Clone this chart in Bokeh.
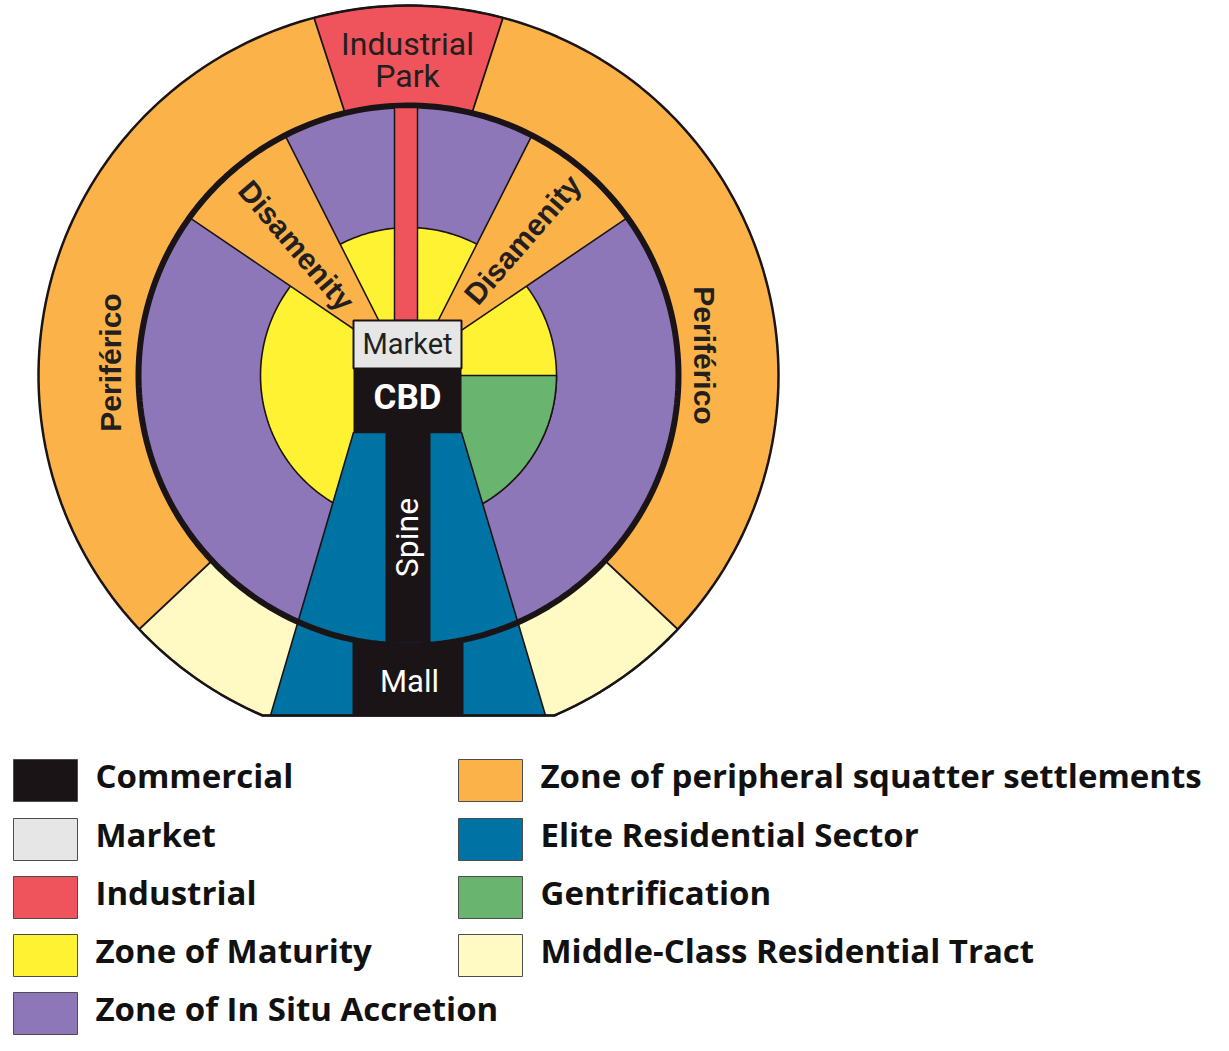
import numpy as np
from bokeh.plotting import figure
from bokeh.models import Range1d
from bokeh.embed import file_html
from bokeh.resources import INLINE
from bokeh.core.properties import value

# ---------------- model data (reference pixel coordinates) ----------------
CENTER = [408, 375]
RADII = [370, 270, 148]              # outer ring, inner (black) ring, core
BOTTOM_CUT = 715
INDUSTRIAL_HALF_DEG = [14.8, 13.6]   # half-angle at outer / inner radius
DISAMENITY_DEG = [[117.2, 144.2], [35.8, 62.8]]
DISAMENITY_APEX = [[398, 359], [418, 359]]
MIDDLE_CLASS_DEG = [[223.3, 270.0], [270.0, 316.7]]
GENTRIFICATION_DEG = [-90.0, 0.0]
ELITE_TOP_X = [353, 461]
ELITE_BOTTOM_X = [270, 545]
ELITE_Y = [432, 715]
RED_STRIP = [394, 417, 107, 320]
MARKET_BOX = [353, 461, 320, 368]
CBD_BOX = [353, 461, 368, 432]
SPINE_BOX = [385, 430, 432, 642]
MALL_BOX = [352, 463, 642, 715]

zone_names = ["Commercial", "Market", "Industrial", "Zone of Maturity",
              "Zone of In Situ Accretion", "Zone of peripheral squatter settlements",
              "Elite Residential Sector", "Gentrification", "Middle-Class Residential Tract"]
zone_colors = ["#1b1416", "#e6e6e6", "#ef545c", "#fff232", "#8e77b8",
               "#fbb248", "#0073a5", "#69b46f", "#fff9c3"]
COL = dict(zip(zone_names, zone_colors))

legend_left = zone_names[:5]
legend_right = zone_names[5:]
legend_row_top = [759, 818, 876, 934, 992]
legend_cols_x = [13, 458]

INK = "#1b1416"
NARROW = "Roboto"
BOLDF = "Liberation Sans"

W, H = 1213, 1035
p = figure(width=W, height=H, x_range=Range1d(0, W), y_range=Range1d(H, 0),
           output_backend="svg", toolbar_location=None, min_border=0)
p.axis.visible = False
p.grid.visible = False
p.outline_line_color = None
p.background_fill_color = "white"
p.border_fill_color = "white"

cx, cy = CENTER


def arc(r, a0, a1, n=240):
    t = np.radians(np.linspace(a0, a1, n))
    return list(cx + r * np.cos(t)), list(cy - r * np.sin(t))


def clip_y(xs, ys, ymax):
    ox, oy = [], []
    n = len(xs)
    for i in range(n):
        x1, y1 = xs[i], ys[i]
        x2, y2 = xs[(i + 1) % n], ys[(i + 1) % n]
        in1, in2 = y1 <= ymax, y2 <= ymax
        if in1:
            ox.append(x1); oy.append(y1)
        if in1 != in2:
            t = (ymax - y1) / (y2 - y1)
            ox.append(x1 + t * (x2 - x1)); oy.append(ymax)
    return ox, oy


R_OUT, R_IN, R_CORE = RADII

# outer ring (squatter settlements)
ox, oy = clip_y(*arc(R_OUT, 0, 360), BOTTOM_CUT)
p.patch(ox, oy, fill_color=COL["Zone of peripheral squatter settlements"], line_color=None)

# industrial park
ax, ay = arc(R_OUT, 90 - INDUSTRIAL_HALF_DEG[0], 90 + INDUSTRIAL_HALF_DEG[0])
bx, by = arc(R_IN, 90 + INDUSTRIAL_HALF_DEG[1], 90 - INDUSTRIAL_HALF_DEG[1])
p.patch(ax + bx, ay + by, fill_color=COL["Industrial"], line_color=INK, line_width=1.8)

# middle-class tracts
for a0, a1 in MIDDLE_CLASS_DEG:
    mx, my = arc(R_OUT, a0, a1)
    mx, my = clip_y([cx] + mx, [cy] + my, BOTTOM_CUT)
    p.patch(mx, my, fill_color=COL["Middle-Class Residential Tract"], line_color=INK, line_width=1.8)

# inner disk (in situ accretion)
ix, iy = arc(R_IN, 0, 360)
p.patch(ix, iy, fill_color=COL["Zone of In Situ Accretion"], line_color=None)

# zone of maturity
yx, yy = arc(R_CORE, 0, 360)
p.patch(yx, yy, fill_color=COL["Zone of Maturity"], line_color=INK, line_width=1.6)

# gentrification
gx, gy = arc(R_CORE, *GENTRIFICATION_DEG)
p.patch([cx] + gx, [cy] + gy, fill_color=COL["Gentrification"], line_color=INK, line_width=1.6)

# disamenity wedges
for (a0, a1), (px_, py_) in zip(DISAMENITY_DEG, DISAMENITY_APEX):
    dx, dy = arc(R_IN, a0, a1)
    p.patch([px_] + dx, [py_] + dy, fill_color=COL["Zone of peripheral squatter settlements"],
            line_color=INK, line_width=1.6)

# elite residential sector
p.patch([ELITE_TOP_X[0], ELITE_TOP_X[1], ELITE_BOTTOM_X[1], ELITE_BOTTOM_X[0]],
        [ELITE_Y[0], ELITE_Y[0], ELITE_Y[1], ELITE_Y[1]],
        fill_color=COL["Elite Residential Sector"], line_color=INK, line_width=1.6)

# black inner ring
p.line(ix + [ix[0]], iy + [iy[0]], line_color=INK, line_width=6)

# outer boundary
p.line(ox + [ox[0]], oy + [oy[0]], line_color=INK, line_width=2.5)

# red industrial strip
p.quad(left=[RED_STRIP[0]], right=[RED_STRIP[1]], top=[RED_STRIP[2]], bottom=[RED_STRIP[3]],
       fill_color=COL["Industrial"], line_color=INK, line_width=1.5)

# spine, mall, CBD, market
for box in (SPINE_BOX, MALL_BOX, CBD_BOX):
    p.quad(left=[box[0]], right=[box[1]], top=[box[2]], bottom=[box[3]],
           fill_color=COL["Commercial"], line_color=None)
p.quad(left=[MARKET_BOX[0]], right=[MARKET_BOX[1]], top=[MARKET_BOX[2]], bottom=[MARKET_BOX[3]],
       fill_color=COL["Market"], line_color=INK, line_width=2)

# ---------------- diagram labels ----------------
p.text(x=[407, 407], y=[43, 75], text=["Industrial", "Park"], text_font=value(NARROW),
       text_font_size="32px", text_color="#231f20", text_align="center", text_baseline="middle")
p.text(x=[407], y=[343], text=["Market"], text_font=value(NARROW), text_font_size="29px",
       text_color="#231f20", text_align="center", text_baseline="middle")
p.text(x=[407], y=[397], text=["CBD"], text_font=value(NARROW), text_font_style="bold",
       text_font_size="35px", text_color="white", text_align="center", text_baseline="middle")
p.text(x=[409], y=[681], text=["Mall"], text_font=value(NARROW), text_font_size="31px",
       text_color="white", text_align="center", text_baseline="middle")
p.text(x=[406], y=[537], text=["Spine"], angle=[np.pi / 2], text_font=value(NARROW),
       text_font_size="32px", text_color="white", text_align="center", text_baseline="middle")
p.text(x=[110, 704], y=[362, 355], text=["Periférico", "Periférico"],
       angle=[np.pi / 2, -np.pi / 2], text_font=value(BOLDF), text_font_style="bold",
       text_font_size="30px", text_color="#231f20", text_align="center", text_baseline="middle")
p.text(x=[296, 522], y=[245, 239], text=["Disamenity", "Disamenity"],
       angle=[np.radians(-49.5), np.radians(49.0)], text_font=value(BOLDF), text_font_style="bold",
       text_font_size="30px", text_color="#231f20", text_align="center", text_baseline="middle")

# ---------------- legend ----------------
sw_w, sw_h = 64, 42
for col_x, labels in zip(legend_cols_x, (legend_left, legend_right)):
    tops = legend_row_top[:len(labels)]
    p.quad(left=[col_x] * len(labels), right=[col_x + sw_w] * len(labels),
           top=tops, bottom=[t + sw_h for t in tops],
           fill_color=[COL[l] for l in labels], line_color="#4d4d4d", line_width=1)
    p.text(x=[col_x + sw_w + 18] * len(labels), y=[t + sw_h / 2 - 5 for t in tops], text=labels,
           text_font=value("Open Sans"), text_font_style="bold", text_font_size="33px",
           text_color="#111111", text_align="left", text_baseline="middle")

open("out.html", "w").write(file_html(p, INLINE))
